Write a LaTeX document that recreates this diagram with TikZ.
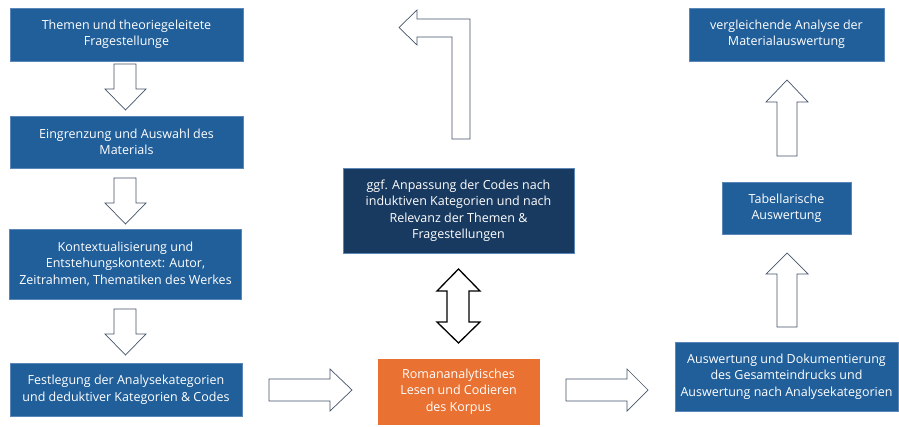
\documentclass[tikz,border=0pt]{standalone}
\usepackage{fontspec}
\setmainfont{Open Sans}
\begin{document}
\begin{tikzpicture}[x=1pt,y=-1pt,
  box/.style={draw=boxedge, line width=0.6pt, fill=boxblue, text=white, align=center,
     inner sep=1pt, font=\fontsize{12.5}{16.5}\selectfont},
  blk/.style={draw=arrowedge, line width=0.7pt, fill=white, line join=miter},
  dbl/.style={draw=black, line width=1.3pt, fill=white, line join=miter}]
\definecolor{boxblue}{HTML}{215F9A}
\definecolor{boxedge}{HTML}{5B86B8}
\definecolor{darkbox}{HTML}{193A60}
\definecolor{orangebox}{HTML}{E97132}
\definecolor{arrowedge}{HTML}{44546A}
\useasboundingbox (0,0) rectangle (899,426);
\fill[white] (0,0) rectangle (899,426);
% left column
\node[box, minimum width=233pt, minimum height=53pt] (b1) at (126.5,34.5) {Themen und theoriegeleitete\\Fragestellunge};
\node[box, minimum width=233pt, minimum height=52pt] (b2) at (126.5,142) {Eingrenzung und Auswahl des\\Materials};
\node[box, minimum width=232pt, minimum height=70pt] (b3) at (125.5,264) {Kontextualisierung und\\Entstehungskontext: Autor,\\Zeitrahmen, Thematiken des Werkes};
\node[box, minimum width=232pt, minimum height=53pt] (b4) at (126,389.5) {Festlegung der Analysekategorien\\und deduktiver Kategorien \& Codes};
% middle
\node[box, fill=darkbox, minimum width=231pt, minimum height=85pt] (dk) at (458.5,210.5) {ggf. Anpassung der Codes nach\\induktiven Kategorien und nach\\Relevanz der Themen \&\\Fragestellungen};
\node[box, fill=orangebox, draw=orangebox, minimum width=161pt, minimum height=65pt] (or) at (458.5,391.5) {Romananalytisches\\Lesen und Codieren\\des Korpus};
% right column
\node[box, minimum width=195pt, minimum height=53pt] (r1) at (786.5,34.5) {vergleichende Analyse der\\Materialauswertung};
\node[box, minimum width=129pt, minimum height=52pt] (r2) at (786.5,208) {Tabellarische\\Auswertung};
\node[box, minimum width=223pt, minimum height=69pt] (r3) at (786.5,376.5) {Auswertung und Dokumentierung\\des Gesamteindrucks und\\Auswertung nach Analysekategorien};
% down arrows left
\foreach \t/\b/\p in {64/89/110, 178/203/224, 309/334/355}{
  \draw[blk] (114,\t) -- (136,\t) -- (136,\b) -- (146,\b) -- (125.5,\p) -- (105,\b) -- (114,\b) -- cycle;
}
% right arrows
\foreach \s/\h/\e in {269/330/352, 566/627/648}{
  \draw[blk] (\s,379) -- (\h,379) -- (\h,369) -- (\e,390) -- (\h,411) -- (\h,401) -- (\s,401) -- cycle;
}
% up arrows right
\foreach \p/\b/\t in {80/102/156, 253/274/327}{
  \draw[blk] (777,\t) -- (797,\t) -- (797,\b) -- (808,\b) -- (787,\p) -- (766,\b) -- (777,\b) -- cycle;
}
% double arrow
\draw[dbl] (458.5,269) -- (480,291) -- (469,291) -- (469,322) -- (480,322) -- (458.5,343) -- (437,322) -- (447,322) -- (447,291) -- (437,291) -- cycle;
% bent arrow
\draw[blk] (470,139) -- (470,19) -- (417,19) -- (417,10) -- (399,27.5) -- (417,45) -- (417,37) -- (452,37) -- (452,139) -- cycle;
\end{tikzpicture}
\end{document}
